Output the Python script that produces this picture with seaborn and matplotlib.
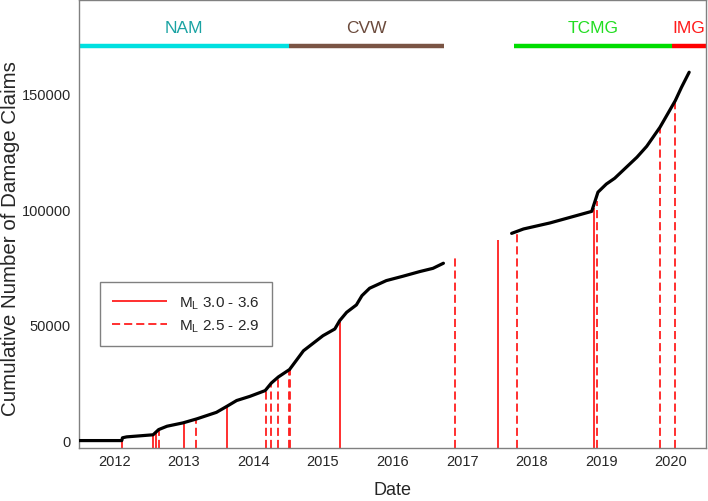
import pandas as pd
import matplotlib
matplotlib.use("Agg")
import matplotlib.pyplot as plt
import seaborn as sns

# cumulative damage claims, decimal year -> count (two segments, gap in 2017)
seg1_years = [2012.0, 2012.61, 2012.62, 2012.68, 2013.06, 2013.14, 2013.26, 2013.49,
              2013.69, 2013.97, 2014.12, 2014.26, 2014.45, 2014.67, 2014.76, 2014.86,
              2015.02, 2015.22, 2015.50, 2015.67, 2015.74, 2015.84, 2015.98, 2016.06,
              2016.17, 2016.41, 2016.65, 2016.89, 2017.08, 2017.23]
seg1_claims = [0, 0, 1200, 1600, 2500, 4750, 6200, 7650,
               9400, 12200, 14800, 17300, 19100, 21600, 24900, 27500,
               30700, 38800, 45300, 48200, 51800, 55400, 58600, 62600,
               65800, 69100, 71000, 73000, 74400, 76600]
seg2_years = [2018.21, 2018.38, 2018.76, 2019.00, 2019.36, 2019.45, 2019.57, 2019.69,
              2020.01, 2020.15, 2020.34, 2020.56, 2020.65, 2020.76]
seg2_claims = [89500, 91400, 94000, 96000, 99000, 107300, 110800, 113300,
               122400, 127100, 135300, 146800, 152600, 159100]

# earthquakes: date, claims reached, magnitude class
quake_years = [2012.62, 2013.06, 2013.10, 2013.14, 2013.51, 2013.68, 2014.12,
               2014.68, 2014.76, 2014.86, 2015.01, 2015.03, 2015.75, 2017.39,
               2018.01, 2018.28, 2019.40, 2019.43, 2020.34, 2020.55]
quake_claims = [1200, 2500, 3500, 4750, 7700, 9400, 14800,
                21800, 24000, 27400, 31000, 31300, 51300, 79200,
                86600, 89200, 100500, 103500, 135300, 146800]
quake_class = ["large", "large", "large", "small", "large", "small", "large",
               "small", "small", "small", "small", "small", "large", "small",
               "large", "small", "large", "small", "small", "small"]

# handling organisations
period_names = ["NAM", "CVW", "TCMG", "IMG"]
period_start = [2012.0, 2015.01, 2018.25, 2020.52]
period_end = [2015.01, 2017.24, 2020.52, 2021.0]
period_colors = ["#00e0e0", "#7a5444", "#00dd00", "#ff0000"]
period_text_colors = ["#1aa3a3", "#6b4a3c", "#22dd22", "#ff1a1a"]

year_labels = ["2012", "2013", "2014", "2015", "2016", "2017", "2018", "2019", "2020"]

RED = "#ff1f1f"
GRAY = "#808080"
YMIN, YMAX = -3200, 190300


def main():
    sns.set_style("white")
    plt.rcParams["font.family"] = ["Liberation Sans", "DejaVu Sans"]

    fig = plt.figure(figsize=(7.08, 5.02), dpi=100)
    ax = fig.add_axes([0.112, 0.1056, 0.885, 0.8924])

    curve = pd.DataFrame({
        "year": seg1_years + seg2_years,
        "claims": seg1_claims + seg2_claims,
        "segment": [1] * len(seg1_years) + [2] * len(seg2_years),
    })
    sns.lineplot(data=curve, x="year", y="claims", units="segment", estimator=None,
                 color="black", linewidth=2.3, ax=ax, zorder=3)

    quakes = pd.DataFrame({"year": quake_years, "claims": quake_claims, "cls": quake_class})
    big = quakes[quakes["cls"] == "large"]
    small = quakes[quakes["cls"] == "small"]
    ax.vlines(big["year"], YMIN, big["claims"], color=RED, linewidth=1.3,
              label=r"M$_\mathregular{L}$ 3.0 - 3.6", zorder=2)
    ax.vlines(small["year"], YMIN, small["claims"], color=RED, linewidth=1.3,
              linestyles=(0, (4.5, 2.2)), label=r"M$_\mathregular{L}$ 2.5 - 2.9", zorder=2)

    bar_y = 170500
    for name, s, e, c, tc in zip(period_names, period_start, period_end,
                                 period_colors, period_text_colors):
        ax.hlines(bar_y, s, e, color=c, linewidth=3.2, zorder=2)
        ax.text((s + e) / 2, 178300, name, color=tc, fontsize=12.5,
                ha="center", va="center")

    ax.set_xlim(2012, 2021)
    ax.set_ylim(YMIN, YMAX)

    ax.set_xticks(range(2012, 2022))
    ax.set_xticklabels([])
    ax.set_xticks([y + 0.5 for y in range(2012, 2021)], minor=True)
    ax.set_xticklabels(year_labels, minor=True, fontsize=10.5)
    ax.tick_params(axis="x", which="major", direction="out", length=6, color=GRAY, width=1)
    ax.tick_params(axis="x", which="minor", length=0, pad=4)

    ax.set_yticks([0, 50000, 100000, 150000])
    ax.set_yticklabels(["0", "50000", "100000", "150000"], fontsize=10.5)
    ax.set_yticks(range(10000, 190000, 10000), minor=True)
    ax.tick_params(axis="y", which="major", direction="in", length=5, color=GRAY, width=1, pad=6)
    ax.tick_params(axis="y", which="minor", direction="in", length=3, color="#d0d0d0", width=0.8)

    for sp in ax.spines.values():
        sp.set_color(GRAY)
        sp.set_linewidth(1.0)

    ax.set_xlabel("Date", fontsize=13)
    ax.xaxis.set_label_coords(0.5, -0.074)
    ax.xaxis.label.set_va("top")
    ax.set_ylabel("Cumulative Number of Damage Claims", fontsize=14.8)
    ax.yaxis.set_label_coords(-0.094, 0.47)

    leg = ax.legend(loc="lower left", bbox_to_anchor=(0.033, 0.228), borderaxespad=0,
                    fontsize=11, handlelength=3.6, fancybox=False, framealpha=1,
                    edgecolor=GRAY, borderpad=0.8, labelspacing=0.4)
    leg.get_frame().set_linewidth(1.0)

    fig.savefig("out.png", dpi=100)
    plt.close(fig)


if __name__ == "__main__":
    main()
